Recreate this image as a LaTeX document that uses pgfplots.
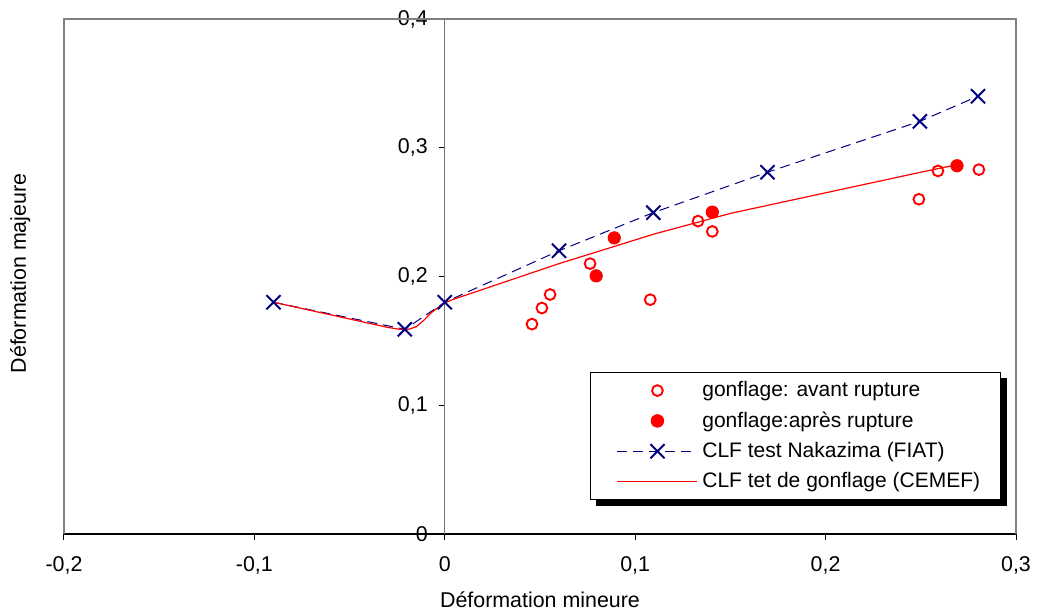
\documentclass[border=0pt]{standalone}
\usepackage{fontspec}
\setmainfont{Liberation Sans}
\usepackage{pgfplots}
\pgfplotsset{compat=1.18}
\pgfdeclarelayer{background}
\pgfsetlayers{background,main}
\definecolor{navy}{RGB}{0,0,128}
\definecolor{xred}{RGB}{255,0,0}
\begin{document}
\begin{tikzpicture}
\begin{axis}[
  name=ax,
  at={(0,0)}, anchor=south west,
  scale only axis, width=476pt, height=257.5pt,
  xmin=-0.2, xmax=0.3, ymin=0, ymax=0.4,
  axis x line=bottom, axis y line=middle,
  x axis line style={-, black, line width=0.6pt},
  y axis line style={-, black!55, line width=0.6pt},
  hide obscured x ticks=false, hide obscured y ticks=false,
  xtick={-0.2,-0.1,0,0.1,0.2,0.3},
  xticklabels={{-0,2},{-0,1},0,{0,1},{0,2},{0,3}},
  ytick={0,0.1,0.2,0.3,0.4},
  yticklabels={0,{0,1},{0,2},{0,3},{0,4}},
  tick align=outside, major tick length=3pt,
  tick style={black, line width=0.5pt},
  xticklabel style={yshift=-4.5pt, font=\fontsize{10.7}{12}\selectfont},
  yticklabel style={xshift=-2pt, font=\fontsize{10.7}{12}\selectfont},
  xlabel={Déformation mineure},
  ylabel={Déformation majeure},
  xlabel style={at={(axis description cs:0.5,-0.128)}, anchor=center, font=\fontsize{10.7}{12}\selectfont},
  ylabel style={at={(axis description cs:-0.046,0.506)}, anchor=center, rotate=90, font=\fontsize{10.7}{12}\selectfont},
  clip=false,
  legend cell align=left,
  legend style={name=leg, at={(axis description cs:0.5525,0.3146)}, anchor=north west,
    draw=black, line width=0.5pt, fill=white,
    font=\fontsize{10.5}{12.5}\selectfont, inner xsep=8pt, inner ysep=2.5pt,
    row sep=2pt},
]
\draw[gray, line width=0.6pt] (axis cs:-0.2,0) -- (axis cs:-0.2,0.4) -- (axis cs:0.3,0.4) -- (axis cs:0.3,0);
\addplot[only marks, mark=o, mark size=2.7pt, color=xred, line width=0.95pt,
  legend image code/.code={\path (0pt,0pt) (45pt,0pt); \draw plot[mark=o] coordinates {(25pt,0pt)};}]
 coordinates {
 (0.0458,0.163) (0.051,0.1755) (0.0553,0.186) (0.0763,0.210) (0.1079,0.182)
 (0.133,0.243) (0.1405,0.235) (0.249,0.260) (0.259,0.282) (0.2805,0.283)
 };
\addlegendentry{gonflage: avant rupture}
\addplot[only marks, mark=*, mark size=3.1pt, color=xred, fill=xred,
  legend image code/.code={\path (0pt,0pt) (45pt,0pt); \draw plot[mark=*] coordinates {(25pt,0pt)};}]
 coordinates {
 (0.089,0.230) (0.0795,0.2005) (0.1405,0.250) (0.269,0.286)
 };
\addlegendentry{gonflage:après rupture}
\addplot[color=navy, line width=0.5pt, dash pattern=on 5pt off 3pt,
  mark=x, mark size=5pt, mark options={solid, line width=1pt},
  legend image code/.code={\path (0pt,0pt) (45pt,0pt); \draw (5pt,0pt) -- (45pt,0pt); \draw[solid] plot[mark=x] coordinates {(25pt,0pt)};}]
 coordinates {
 (-0.09,0.180) (-0.021,0.159) (0,0.180) (0.06,0.220) (0.1095,0.2496)
 (0.1695,0.281) (0.2495,0.3205) (0.28,0.340)
 };
\addlegendentry{CLF test Nakazima (FIAT)}
\addplot[color=xred, line width=0.6pt,
  legend image code/.code={\path (0pt,0pt) (45pt,0pt); \draw (5pt,0pt) -- (45pt,0pt);}]
 coordinates {
 (-0.09,0.180) (-0.03,0.1605) (-0.024,0.159) (-0.019,0.159) (-0.015,0.161)
 (-0.011,0.166) (-0.007,0.172) (-0.003,0.1765) (0,0.1795) (0.004,0.182)
 (0.06,0.210) (0.11,0.233) (0.15,0.249) (0.25,0.281) (0.268,0.2865)
 };
\addlegendentry{CLF tet de gonflage (CEMEF)}
\end{axis}
\begin{pgfonlayer}{background}
\fill[black] ([shift={(3pt,-3pt)}]leg.south west) rectangle ([shift={(3pt,-3pt)}]leg.north east);
\end{pgfonlayer}
\pgfresetboundingbox
\path[use as bounding box] (-32pt,-39.5pt) rectangle (487pt,267pt);
\end{tikzpicture}
\end{document}
